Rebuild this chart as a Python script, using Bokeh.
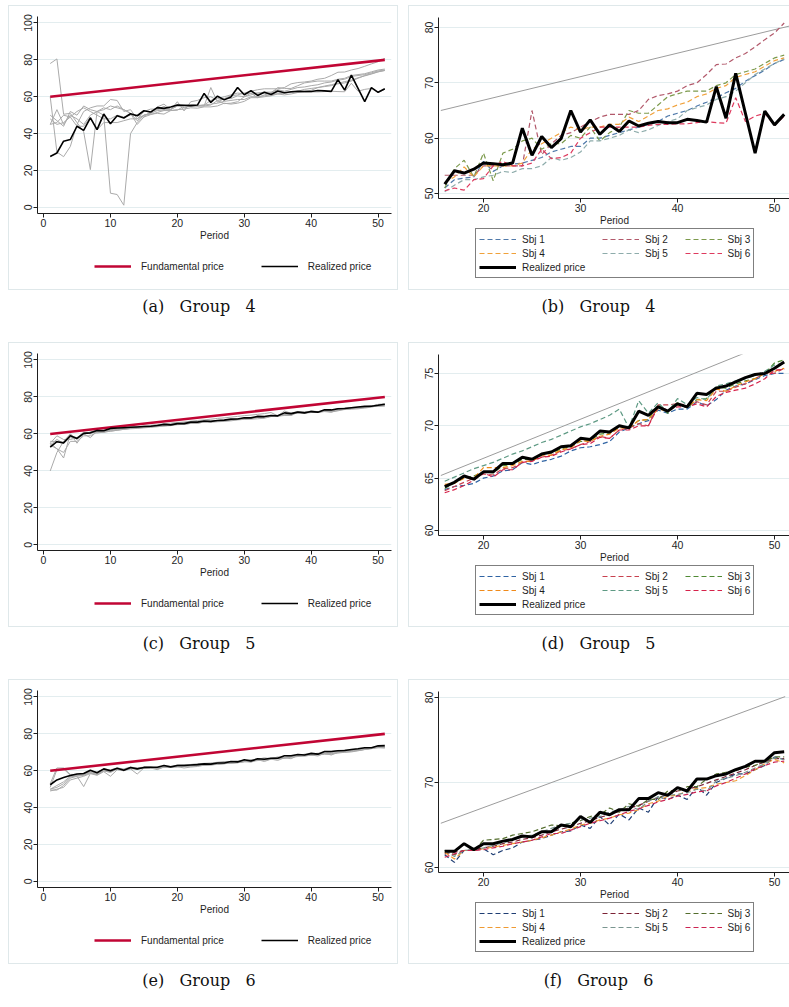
from bokeh.plotting import figure
from bokeh.models import Legend, LegendItem, Div, FixedTicker, Range1d
from bokeh.layouts import column, row
from bokeh.embed import file_html
from bokeh.resources import INLINE

# ---------------- data ----------------
periods = list(range(1, 52))
late_periods = list(range(16, 52))

fund_x = [1, 51]
fund_y = [60, 80]

# Group 4
g4_realized = [27.6, 29.5, 35.9, 36.8, 44.0, 41.8, 48.5, 42.2, 50.6, 45.4, 49.7, 48.5, 50.8, 49.7, 52.4,
               51.7, 54.1, 53.7, 54.4, 55.5, 55.4, 55.2, 55.5, 61.8, 56.9, 60.3, 58.3, 59.9, 65.0, 61.1,
               63.3, 60.7, 62.4, 61.2, 63.1, 62.2, 62.7, 63.0, 62.8, 62.8, 63.4, 63.2, 62.9, 69.3, 63.6,
               71.7, 64.5, 57.3, 64.9, 62.4, 64.3]
g4_sbj1 = [78, 80.5, 50.5, 51, 46, 41, 20.5, 52, 53, 55, 54, 53, 51, 47, 50,
           51, 52.5, 52.8, 53, 55.8, 54, 55, 55.3, 55.5, 56, 56.5, 57.5, 58, 58.5, 58.5, 60, 60, 60.5, 61, 61.5,
           62, 62.5, 63, 64, 64.5, 65, 65.8, 66.5, 67.3, 68.2, 69, 70.3, 71.3, 72.3, 73.5, 74.2]
g4_sbj2 = [60, 30, 27.5, 33, 45, 52, 54, 55, 55, 58.5, 58, 52, 53, 48, 52,
           53.3, 53.3, 53.3, 53.3, 55, 55, 55, 55, 55, 65, 57, 59, 60.5, 61, 62, 63, 63.8, 64.3, 64.3, 64.3,
           65, 67, 67.7, 68, 68.5, 69.5, 70, 71.5, 73.3, 73.4, 74.5, 75.3, 76.5, 77.8, 79, 80.8]
g4_sbj3 = [50, 47, 44, 52, 50, 55, 53, 52, 50, 7.7, 7, 1.2, 40, 46, 50,
           51, 54.5, 56, 53, 57.3, 52.3, 57.3, 58, 59.5, 60, 58, 59, 59, 60.5, 60, 62, 59.5, 61, 62, 65,
           64.5, 64.5, 66, 67.5, 68, 68.5, 68.5, 68.5, 69.5, 70, 71.5, 72, 72.5, 73.5, 74.5, 75]
g4_sbj4 = [45, 53, 45, 50, 48, 45, 50, 52, 54, 53, 55, 53, 51, 45, 49,
           52, 53, 54.8, 53, 55, 55, 55, 55, 55.5, 58, 59, 60, 61, 62, 61.5, 62, 62, 62.5, 62.5, 63.8,
           63, 64, 65, 65.3, 66, 66.5, 67.5, 68, 69, 69.5, 71, 71.5, 72, 73, 74, 74.5]
g4_sbj5 = [48, 45, 46, 49, 52, 54, 52, 50, 48, 48, 50, 49, 50, 50, 49,
           50.3, 51.5, 52.5, 52.5, 53, 53.3, 54, 53.8, 54.5, 54.5, 55, 56.5, 56, 56.5, 57.5, 59.5, 59.5, 60, 60.5, 61.5,
           61, 61.5, 62.3, 63, 63.5, 65, 65.5, 66, 67, 67.5, 68.5, 70, 71.5, 72.5, 73.5, 74.3]
g4_sbj6 = [45, 46, 50, 49, 44, 44, 49, 42, 46, 46, 46, 47, 48, 48, 50,
           50.5, 51, 50.6, 52.5, 52.7, 55, 55.8, 55, 55, 55.5, 58, 56.3, 56.5, 57.3, 60, 61, 62, 62, 62, 62,
           62, 62.3, 62.5, 62.5, 62.6, 62.6, 62.8, 63, 62.8, 62.7, 67.3, 63, 64, 64.5, 62.3, 64]
g4_ref_x = [15.6, 51.65]
g4_ref_y = [65.0, 80.3]

# Group 5
g5_realized = [52.9, 55.8, 55.2, 59.0, 57.6, 60.3, 60.6, 61.9, 61.7, 63.0, 63.2, 63.4, 63.6, 63.8, 64.0,
               64.2, 64.6, 65.2, 64.9, 65.6, 65.6, 66.4, 66.4, 67.0, 66.8, 67.3, 67.5, 68.0, 68.1, 68.8,
               68.7, 69.5, 69.4, 70.0, 69.8, 71.4, 71.0, 71.8, 71.4, 72.1, 71.8, 73.1, 73.0, 73.6, 73.8,
               74.2, 74.6, 74.9, 75.0, 75.5, 76.1]
g5_sbj1 = [55, 52, 50, 56, 56, 59, 59, 61, 61, 61.5, 62, 62.5, 63, 63.3, 63.6,
           63.9, 64.2, 64.3, 64.5, 65, 65.2, 65.7, 65.8, 66.5, 66.3, 66.6, 66.8, 67.1, 67.6, 67.9, 68.0, 68.2, 68.5,
           69.4, 69.8, 70.2, 70.5, 71.5, 71.2, 71.6, 71.6, 72.3, 71.9, 72.5, 73.4, 73.8, 74.0, 74.4, 74.8, 75.0, 75.0]
g5_sbj2 = [54, 57, 55, 58, 57.5, 60, 60.5, 61, 61.5, 62, 62.3, 62.7, 63, 63.3, 63.5,
           63.8, 64.2, 64.6, 65.0, 65.4, 65.3, 65.9, 66.0, 66.5, 66.7, 67.0, 67.2, 67.6, 67.8, 68.2, 68.5, 69.0, 68.8,
           69.6, 69.8, 70.2, 70.0, 72.0, 72.0, 72.1, 72.0, 72.3, 72.0, 73.3, 73.3, 73.7, 74.0, 74.5, 75.0, 75.0, 75.5]
g5_sbj3 = [54, 52, 47, 60, 57, 60, 61, 62, 62, 62.5, 63, 63.2, 63.5, 63.8, 64,
           64.0, 64.6, 65.0, 65.2, 65.6, 65.5, 66.2, 66.3, 66.8, 66.8, 67.3, 67.4, 67.8, 68.0, 68.5, 68.6, 69.2, 69.3,
           69.9, 69.8, 70.5, 70.6, 72.0, 71.2, 72.2, 71.7, 72.5, 72.6, 73.7, 73.6, 74.0, 74.3, 74.5, 75.0, 76.0, 76.3]
g5_sbj4 = [56, 56, 55, 59, 58, 61, 60, 62, 62, 62.5, 63, 63.5, 63.7, 64, 64.2,
           64.4, 64.5, 65.0, 65.0, 66.0, 66.0, 66.0, 66.2, 66.6, 66.6, 67.2, 67.2, 67.7, 67.9, 68.6, 68.5, 69.0, 69.2,
           69.8, 69.8, 70.5, 70.6, 71.6, 71.4, 72.0, 71.8, 72.5, 72.4, 73.5, 73.3, 73.8, 74.2, 74.5, 75.0, 75.2, 75.5]
g5_sbj5 = [40, 50, 56, 60, 55, 60, 61, 60.5, 61, 62, 62.5, 63, 63.4, 63.8, 64.2,
           64.7, 65.1, 65.5, 65.9, 66.2, 66.5, 66.9, 67.3, 67.6, 68.0, 68.4, 68.7, 69.1, 69.5, 69.9, 70.2, 70.6, 71.0,
           71.6, 69.8, 72.4, 71.2, 72.2, 71.3, 72.6, 72.0, 72.7, 72.5, 73.8, 74.0, 74.3, 74.5, 74.8, 75.2, 75.8, 76.0]
g5_sbj6 = [55, 59, 57, 57, 58, 60, 58, 61.5, 61, 61.5, 62, 62.5, 62.8, 63, 63.3,
           63.6, 63.9, 64.3, 64.8, 65.5, 65.1, 65.8, 65.8, 66.5, 66.6, 67.0, 67.1, 67.5, 67.8, 68.2, 68.3, 68.9, 68.8,
           69.6, 69.6, 70.0, 70.0, 71.8, 71.5, 71.8, 71.8, 72.1, 71.8, 72.8, 73.2, 73.4, 73.6, 74.0, 74.5, 75.3, 75.4]
g5_ref_x = [15.6, 48.0]
g5_ref_y = [65.25, 77.35]

# Group 6
g6_realized = [52.4, 55.0, 56.3, 57.4, 58.2, 58.5, 60.3, 58.9, 61.0, 60.0, 61.4, 60.3, 61.8, 61.0, 61.8,
               61.9, 61.9, 62.8, 62.1, 62.8, 62.8, 63.1, 63.3, 63.7, 63.6, 64.2, 64.2, 65.0, 64.8, 66.0,
               65.3, 66.5, 66.2, 66.8, 66.8, 68.1, 68.1, 68.8, 68.5, 69.4, 69.0, 70.4, 70.4, 70.8, 71.0,
               71.5, 71.9, 72.5, 72.5, 73.5, 73.6]
g6_sbj1 = [49.5, 49.5, 52, 56, 57, 57.5, 59, 58, 60, 59.5, 61, 60.5, 61, 61, 61.5,
           61.5, 60.6, 62.0, 62.0, 62.2, 61.5, 62.0, 62.3, 63.0, 63.2, 63.4, 63.8, 64.2, 64.3, 65.0, 64.6, 66.0, 65.0,
           66.3, 65.6, 67.0, 66.5, 68.3, 68.0, 68.5, 68.0, 69.5, 68.5, 70.0, 70.5, 71.0, 71.0, 71.5, 72.0, 73.0, 72.7]
g6_sbj2 = [50, 51, 53, 56.5, 57.5, 58, 59.5, 58.5, 60.5, 60, 61, 60.5, 61.5, 61, 61.6,
           61.6, 61.8, 62.0, 62.1, 62.3, 62.5, 62.8, 63.0, 63.3, 63.5, 63.8, 64.2, 64.5, 64.8, 65.2, 65.5, 65.9, 66.2,
           66.6, 67.0, 67.3, 67.8, 68.2, 68.6, 69.0, 69.2, 69.5, 69.9, 70.3, 70.7, 71.1, 71.5, 72.0, 72.4, 72.8, 72.8]
g6_sbj3 = [53, 61.5, 61.5, 58, 58, 58, 60, 59, 61, 60.5, 61.5, 61, 62, 61.5, 62,
           62.0, 61.5, 62.0, 62.0, 63.2, 63.3, 63.4, 63.8, 64.0, 64.2, 64.6, 65.0, 64.9, 65.2, 65.5, 66.0, 66.2, 67.0,
           66.5, 67.5, 67.2, 68.0, 68.0, 69.0, 69.0, 69.5, 69.5, 70.4, 71.0, 71.2, 71.4, 71.8, 72.0, 72.5, 73.0, 73.0]
g6_sbj4 = [49, 50, 51, 55, 56, 57, 58.5, 57.5, 59.5, 57, 60.5, 60, 61, 58.2, 61.5,
           61.8, 61.0, 62.0, 62.0, 62.2, 62.4, 62.6, 62.8, 63.0, 63.2, 63.5, 63.8, 64.2, 64.5, 65.0, 65.2, 65.6, 65.8,
           66.2, 66.4, 66.8, 67.5, 67.8, 68.4, 68.5, 69.0, 69.3, 69.4, 69.8, 70.0, 70.2, 70.8, 71.5, 72.2, 72.7, 72.3]
g6_sbj5 = [50, 52, 54, 57, 57, 51.4, 58.5, 58, 60, 59.5, 61, 60.5, 61.3, 61, 61.8,
           62.0, 61.3, 62.0, 62.1, 62.3, 62.6, 62.9, 63.2, 63.6, 63.8, 64.2, 64.6, 65.0, 65.2, 65.6, 65.8, 66.0, 66.5,
           66.8, 67.2, 66.8, 67.8, 68.3, 68.5, 68.6, 68.8, 69.2, 69.0, 70.2, 70.5, 70.8, 71.2, 71.7, 72.2, 72.9, 72.7]
g6_sbj6 = [51, 60.5, 61, 57.5, 57.5, 57.5, 59, 58, 60, 59, 61, 60, 61.5, 61, 61.2,
           61.2, 61.6, 62.0, 62.0, 62.1, 62.3, 62.5, 62.8, 63.0, 63.2, 63.6, 64.0, 64.0, 64.4, 64.8, 65.2, 65.5, 65.8,
           66.2, 66.6, 66.9, 67.3, 67.7, 68.0, 68.4, 68.6, 68.9, 69.0, 69.6, 70.0, 70.5, 71.0, 71.6, 72.0, 72.4, 72.5]
g6_ref_x = [15.6, 51.1]
g6_ref_y = [65.2, 80.1]

sbj_labels = ["Sbj 1", "Sbj 2", "Sbj 3", "Sbj 4", "Sbj 5", "Sbj 6"]
captions = ["(a)", "(b)", "(c)", "(d)", "(e)", "(f)"]
group_names = ["Group 4", "Group 5", "Group 6"]
left_yticks = [0, 20, 40, 60, 80, 100]
left_xticks = [0, 10, 20, 30, 40, 50]
right_xticks = [20, 30, 40, 50]
yticks_b = [50, 60, 70, 80]
yticks_d = [60, 65, 70, 75]
yticks_f = [60, 70, 80]

# ---------------- styles ----------------
SANS = "Liberation Sans"
SERIF = "DejaVu Serif"
GRID = "#e3edef"
FRAME = "#dfe8ea"
INK = "#1e1e1e"
RED = "#c10534"
GRAY = "#aaaaaa"
pal_b = ["#4f79aa", "#b2596b", "#7c9a4c", "#f0a13a", "#8eacab", "#de3a5e"]
pal_d = ["#2f63a3", "#c8414f", "#4f8a34", "#f08a1a", "#5e9a84", "#d6224a"]
pal_f = ["#1f3e74", "#7c2235", "#536d2c", "#ef9a32", "#7a9690", "#cc2452"]
BORDER = "1px solid " + FRAME


def style_axes(p, xticks, yticks):
    p.xaxis.ticker = FixedTicker(ticks=xticks)
    p.yaxis.ticker = FixedTicker(ticks=yticks)
    for ax in (p.xaxis[0], p.yaxis[0]):
        ax.axis_line_color = INK
        ax.axis_line_width = 1
        ax.major_tick_line_color = INK
        ax.major_tick_out = 4
        ax.major_tick_in = 0
        ax.minor_tick_line_color = None
        ax.major_label_text_font = SANS
        ax.major_label_text_font_size = "10.5px"
        ax.major_label_text_color = INK
        ax.major_label_standoff = 1
    p.yaxis.major_label_orientation = "vertical"
    p.xaxis.axis_label = "Period"
    p.xaxis.axis_label_text_font = SANS
    p.xaxis.axis_label_text_font_style = "normal"
    p.xaxis.axis_label_text_font_size = "10px"
    p.xaxis.axis_label_text_color = INK
    p.xaxis.axis_label_standoff = 0
    p.xgrid.visible = False
    p.ygrid.grid_line_color = GRID
    p.ygrid.grid_line_width = 1
    p.outline_line_color = None
    p.background_fill_color = "white"
    p.border_fill_color = "white"


def legend_fig(width, height, bl, br, styles):
    # a strip that only carries the legend; its ranges keep the key lines' data out of view
    lf = figure(width=width, height=height, x_range=Range1d(-10, -9), y_range=Range1d(-10, -9),
                output_backend="svg", toolbar_location=None, x_axis_location=None, y_axis_location=None,
                min_border_left=bl, min_border_right=br, min_border_top=0, min_border_bottom=0,
                styles=styles)
    lf.grid.visible = False
    lf.outline_line_color = None
    lf.background_fill_color = "white"
    lf.border_fill_color = "white"
    return lf


def left_panel(realized, subjects, yr):
    p = figure(width=390, height=237, x_range=Range1d(-0.9, 52.0), y_range=Range1d(yr[0], yr[1]),
               output_backend="svg", toolbar_location=None,
               min_border_left=28, min_border_right=8, min_border_top=10, min_border_bottom=30,
               styles={"border-top": BORDER, "border-left": BORDER, "border-right": BORDER,
                       "box-sizing": "border-box"})
    style_axes(p, left_xticks, left_yticks)
    for s in subjects:
        p.line(periods, s, line_color=GRAY, line_width=1)
    p.line(fund_x, fund_y, line_color=RED, line_width=2.6)
    p.line(periods, realized, line_color="black", line_width=1.6)

    lf = legend_fig(390, 48, 28, 8, {"border-bottom": BORDER, "border-left": BORDER,
                                     "border-right": BORDER, "box-sizing": "border-box"})
    kf = lf.line(fund_x, fund_y, line_color=RED, line_width=2.6)
    kr = lf.line(periods, realized, line_color="black", line_width=1.6)
    leg = Legend(items=[LegendItem(label="Fundamental price", renderers=[kf]),
                        LegendItem(label="Realized price", renderers=[kr])],
                 orientation="horizontal", location=(57, 17), margin=0, padding=0,
                 spacing=37, glyph_width=37, glyph_height=14, label_height=14, label_standoff=10,
                 label_text_font=SANS, label_text_font_size="10px", label_text_color=INK,
                 border_line_color=None, background_fill_alpha=0)
    lf.add_layout(leg, "center")
    return column(p, lf, spacing=0, margin=(0, 0, 0, 8))


def right_panel(realized, subjects, yr, yticks, rx, ry, pal):
    p = figure(width=381, height=222, x_range=Range1d(15.36, 51.65), y_range=Range1d(yr[0], yr[1]),
               output_backend="svg", toolbar_location=None,
               min_border_left=29, min_border_right=0, min_border_top=11, min_border_bottom=30,
               styles={"border-left": BORDER, "border-top": BORDER, "box-sizing": "border-box"})
    style_axes(p, right_xticks, yticks)
    p.line(rx, ry, line_color="#9c9c9c", line_width=1)
    for s, c in zip(subjects, pal):
        p.line(late_periods, s[15:], line_color=c, line_width=1.2, line_dash="5 3")
    p.line(late_periods, realized[15:], line_color="black", line_width=3)

    lf = legend_fig(381, 63, 29, 0, {"border-left": BORDER, "border-bottom": BORDER,
                                     "box-sizing": "border-box"})
    keys = [lf.line(late_periods, s[15:], line_color=c, line_width=1.2, line_dash="5 3")
            for s, c in zip(subjects, pal)]
    kr = lf.line(late_periods, realized[15:], line_color="black", line_width=3)
    pad = "\u00a0" * 6
    labels = [sbj_labels[0] + pad, sbj_labels[1] + pad, sbj_labels[2],
              sbj_labels[3] + pad, sbj_labels[4] + pad, sbj_labels[5]]
    items = [LegendItem(label=l, renderers=[r]) for l, r in zip(labels, keys)]
    items.append(LegendItem(label="Realized price" + pad, renderers=[kr]))
    leg = Legend(items=items, orientation="horizontal", ncols=3, location=(37, 12), margin=0,
                 padding=3, spacing=0, glyph_width=37, glyph_height=14, label_height=14,
                 label_standoff=6, label_text_font=SANS, label_text_font_size="10px",
                 label_text_color=INK, border_line_color="black", border_line_width=1,
                 background_fill_color="white")
    lf.add_layout(leg, "center")
    return column(p, lf, spacing=0, margin=(0, 0, 0, 10))


def caption(text, w, h, pad_left):
    html = ('<div style="width:%dpx;text-align:center;font-family:\'%s\';font-size:16px;'
            'color:#111;padding-top:6px;padding-left:%dpx;white-space:pre">%s</div>' % (w, SERIF, pad_left, text))
    return Div(text=html, width=w, height=h, margin=0)


pa = left_panel(g4_realized, [g4_sbj1, g4_sbj2, g4_sbj3, g4_sbj4, g4_sbj5, g4_sbj6], (-3.3, 103.5))
pb = right_panel(g4_realized, [g4_sbj1, g4_sbj2, g4_sbj3, g4_sbj4, g4_sbj5, g4_sbj6],
                 (49.1, 81.8), yticks_b, g4_ref_x, g4_ref_y, pal_b)
pc = left_panel(g5_realized, [g5_sbj1, g5_sbj2, g5_sbj3, g5_sbj4, g5_sbj5, g5_sbj6], (-3.0, 103.5))
pd = right_panel(g5_realized, [g5_sbj1, g5_sbj2, g5_sbj3, g5_sbj4, g5_sbj5, g5_sbj6],
                 (59.52, 76.81), yticks_d, g5_ref_x, g5_ref_y, pal_d)
pe = left_panel(g6_realized, [g6_sbj1, g6_sbj2, g6_sbj3, g6_sbj4, g6_sbj5, g6_sbj6], (-3.3, 103.5))
pf = right_panel(g6_realized, [g6_sbj1, g6_sbj2, g6_sbj3, g6_sbj4, g6_sbj5, g6_sbj6],
                 (59.41, 80.7), yticks_f, g6_ref_x, g6_ref_y, pal_f)

gap = "\u00a0\u00a0\u00a0"
left_items, right_items = [], []
for i, (l, r) in enumerate([(pa, pb), (pc, pd), (pe, pf)]):
    h = 52 if i < 2 else 40
    left_items += [l, caption(captions[2 * i] + gap + group_names[i].replace(" ", gap), 398, h, 0)]
    right_items += [r, caption(captions[2 * i + 1] + gap + group_names[i].replace(" ", gap), 391, h, 10)]

left_col = column(*left_items, spacing=0)
right_col = column(*right_items, spacing=0)
layout = row(left_col, right_col, spacing=0)
layout.margin = (5, 0, 0, 0)

open("out.html", "w").write(file_html(layout, INLINE))
